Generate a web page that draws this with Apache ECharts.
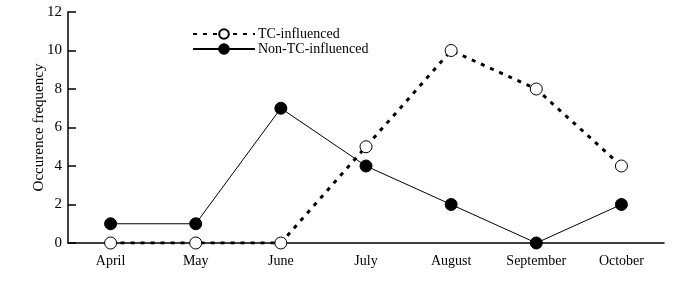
<!DOCTYPE html>
<html><head><meta charset="utf-8">
<script src="https://cdn.jsdelivr.net/npm/echarts@6/dist/echarts.min.js"></script>
<style>html,body{margin:0;padding:0;background:#fff}#c{width:686px;height:285px}</style>
</head><body><div id="c"></div>
<script>
var months = ['April','May','June','July','August','September','October'];
var tcInfluenced = [0,0,0,5,10,8,4];
var nonTcInfluenced = [1,1,7,4,2,0,2];
var yTicks = [0,2,4,6,8,10,12];

var font = '"Liberation Serif","DejaVu Serif",serif';
var chart = echarts.init(document.getElementById('c'));
chart.setOption({
  animation:false,
  backgroundColor:'#fff',
  grid:{left:68,right:22,top:12,bottom:42},
  legend:{
    orient:'vertical',left:187,top:22,itemGap:1,itemWidth:62,itemHeight:12,
    textStyle:{fontFamily:font,fontSize:14,color:'#000',padding:[0,0,0,-2]},
    data:['TC-influenced','Non-TC-influenced']
  },
  xAxis:{
    type:'category',data:months,boundaryGap:true,
    axisLine:{lineStyle:{color:'#000',width:1.5}},
    axisTick:{inside:true,length:8,lineStyle:{color:'#000',width:1.5}},
    axisLabel:{fontFamily:font,fontSize:14,color:'#000',margin:11}
  },
  yAxis:{
    type:'value',min:0,max:12,interval:2,
    name:'Occurence frequency',nameLocation:'middle',nameGap:21,nameRotate:90,
    nameMoveOverlap:false,
    nameTextStyle:{fontFamily:font,fontSize:15,color:'#000'},
    axisLine:{show:true,lineStyle:{color:'#000',width:1.5}},
    axisTick:{show:true,inside:true,length:8,lineStyle:{color:'#000',width:1.5}},
    axisLabel:{fontFamily:font,fontSize:15,color:'#000',margin:6,
      formatter:function(v){return yTicks.indexOf(v)>=0?String(v):'';}},
    splitLine:{show:false}
  },
  series:[
    {name:'TC-influenced',type:'line',data:tcInfluenced,symbol:'circle',symbolSize:12,
     lineStyle:{color:'#000',width:3,type:[4,6]},
     itemStyle:{color:'#fff',borderColor:'#000',borderWidth:1},z:3},
    {name:'Non-TC-influenced',type:'line',data:nonTcInfluenced,symbol:'circle',symbolSize:12,
     lineStyle:{color:'#000',width:1},
     itemStyle:{color:'#000',borderColor:'#000',borderWidth:1},z:4}
  ]
});
</script></body></html>
